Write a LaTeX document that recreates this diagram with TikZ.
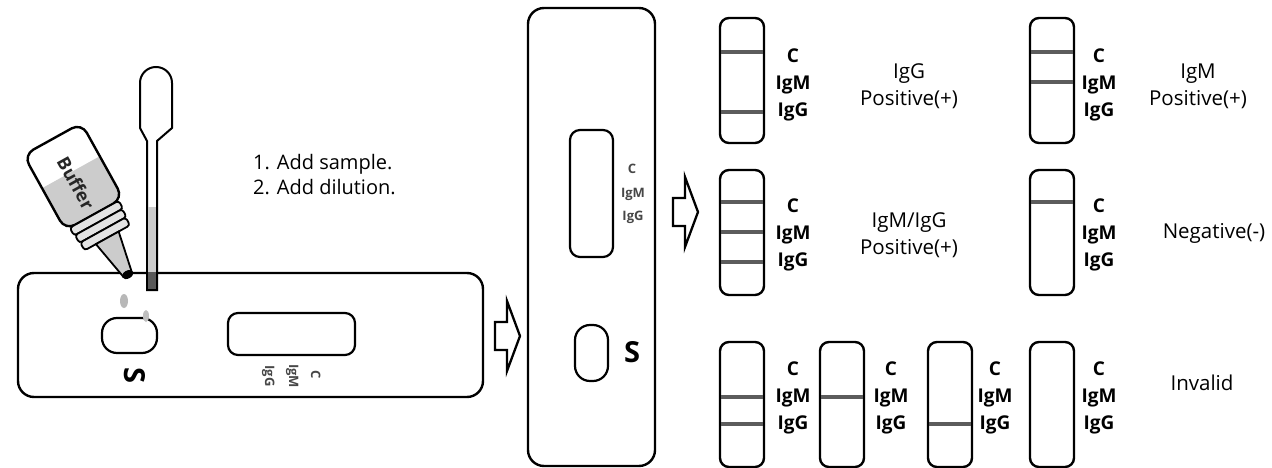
\documentclass[tikz,border=0pt]{standalone}
\usepackage{fontspec}
\setmainfont{Open Sans}
\usetikzlibrary{calc}

\definecolor{liquid}{gray}{0.80}
\definecolor{bandcol}{gray}{0.36}
\definecolor{faint}{gray}{0.28}

\tikzset{
  outline/.style={draw=black, line width=2.4pt},
  cassette/.style={outline, fill=white, rounded corners=16pt, inner sep=0pt, outer sep=0pt, anchor=north west},
  window/.style={outline, line width=2.2pt, rounded corners=10pt, inner sep=0pt, outer sep=0pt, anchor=north west},
  well/.style={outline, line width=2.2pt, rounded corners=15pt, inner sep=0pt, outer sep=0pt, anchor=north west},
  strip/.style={outline, rounded corners=9pt, minimum width=44pt, minimum height=125pt, inner sep=0pt, outer sep=0pt, anchor=north west},
  band/.style={draw=bandcol, line width=4pt, shorten <=1.3pt, shorten >=1.3pt},
  lbl/.style={font=\bfseries\fontsize{19}{19}\selectfont, inner sep=0pt, text height=13pt, text depth=4pt},
  minilbl/.style={font=\bfseries\fontsize{13}{13}\selectfont, text=faint, inner sep=0pt, text height=9pt, text depth=3pt},
  result/.style={font=\fontsize{20.5}{27}\selectfont, align=center, inner sep=0pt},
  bigS/.style={font=\bfseries\fontsize{29}{29}\selectfont, inner sep=0pt},
  blockarrow/.pic={\draw[line width=2.3pt, line join=miter, fill=white]
      (0,-14) -- (12,-14) -- (12,-35) -- (25,0) -- (12,35) -- (12,14) -- (0,14) -- cycle;},
}

% one coloured test line across a result strip
\newcommand\bandat[2]{%
  \path (0,#2) coordinate (bandy);
  \draw[band] (#1.west |- bandy) -- (#1.east |- bandy);}

% C / IgM / IgG column beside a result strip
\newcommand\linelabels[3]{%
  \node[lbl] (#1c) at (#2,#3) {C};
  \node[lbl] (#1m) at (#2,#3+27) {IgM};
  \node[lbl] (#1g) at (#2,#3+54) {IgG};}

\begin{document}
\begin{tikzpicture}[x=1pt, y=-1pt]
\useasboundingbox (0,0) rectangle (1272,468);

% ---------- horizontal cassette with sample being added ----------
\node[cassette, minimum width=465pt, minimum height=124pt] (hc) at (18,273) {};
\node[well, minimum width=55pt, minimum height=35pt] (hwell) at (102,318) {};
\node[window, minimum width=127pt, minimum height=42pt] (hwin) at (228,313) {};
\node[bigS, rotate=-90] (hS) at (135,375) {S};
\node[minilbl, rotate=-90] (hIgG) at (268,376) {IgG};
\node[minilbl, rotate=-90] (hIgM) at (292,376) {IgM};
\node[minilbl, rotate=-90] (hC) at (314,375) {C};

% falling drops
\fill[black!28] (124,301) ellipse (4 and 7);
\fill[black!25] (146,316) ellipse (3 and 6);

% pipette
\draw[outline, line width=2pt, fill=white]
  (147,290) -- (147,141) -- (140,128)
  [rounded corners=15.9pt] -- (140,67) -- (172,67)
  [sharp corners] -- (172,128) -- (157,141) -- (157,290) -- cycle;
\fill[liquid] (148.2,207) rectangle (155.8,272);
\fill[black!65] (148.2,272) rectangle (155.8,289);

% buffer bottle, tilted towards the sample well
\begin{scope}[shift={(52.5,139)}, rotate=29]
  \begin{scope}
    \clip[rounded corners=11pt] (-33,0) rectangle (33,86);
    \fill[white] (-34,-1) rectangle (34,87);
    \fill[liquid] (-34,38) rectangle (34,87);
  \end{scope}
  \draw[outline, rounded corners=11pt] (-33,0) rectangle (33,86);
  \foreach \yy/\hw in {86/28,95/27,104/26}
    \draw[outline, line width=1.8pt, fill=liquid!55, rounded corners=3pt] (-\hw,\yy) rectangle (\hw,\yy+9);
  \draw[outline, line width=1.8pt, fill=liquid] (-13,113) -- (13,113) -- (5,154) -- (-5,154) -- cycle;
  \fill (0,155) ellipse (6 and 4);
  \node[font=\bfseries\fontsize{18}{18}\selectfont, rotate=-61, text=black!85, inner sep=0pt] (buffer) at (-1,50) {Buffer};
\end{scope}

\node[font=\fontsize{20}{25}\selectfont, align=left, anchor=west, inner sep=0pt] (steps) at (253,175)
  {1. Add sample.\\2. Add dilution.};

% ---------- vertical cassette ----------
\pic (arrowA) at (495,336) {blockarrow};
\node[cassette, minimum width=127pt, minimum height=458pt] (vc) at (528,8) {};
\node[window, minimum width=43pt, minimum height=127pt] (vwin) at (570,130) {};
\node[minilbl] (vC) at (632,170) {C};
\node[minilbl] (vIgM) at (633,194) {IgM};
\node[minilbl] (vIgG) at (633,217) {IgG};
\node[well, minimum width=33pt, minimum height=56pt] (vwell) at (575,325) {};
\node[bigS] (vS) at (632,352) {S};

\pic (arrowB) at (673,212) {blockarrow};

% ---------- reading the result ----------
\node[strip] (s1) at (720,18) {};
\node[strip] (s2) at (1030,18) {};
\node[strip] (s3) at (720,170) {};
\node[strip] (s4) at (1030,170) {};
\node[strip] (s5) at (720,342) {};
\node[strip] (s6) at (820,342) {};
\node[strip] (s7) at (928,342) {};
\node[strip] (s8) at (1030,342) {};

\bandat{s1}{52} \bandat{s1}{112}
\bandat{s2}{52} \bandat{s2}{82}
\bandat{s3}{202} \bandat{s3}{232} \bandat{s3}{262}
\bandat{s4}{202}
\bandat{s5}{397} \bandat{s5}{424}
\bandat{s6}{397}
\bandat{s7}{424}

\linelabels{a}{793}{58}
\linelabels{b}{1099}{58}
\linelabels{c}{793}{208}
\linelabels{d}{1099}{208}
\linelabels{e}{793}{371}
\linelabels{f}{891}{371}
\linelabels{g}{995}{371}
\linelabels{h}{1099}{371}

\node[result] (rIgG) at (909,86) {IgG\\Positive(+)};
\node[result] (rIgM) at (1198,86) {IgM\\Positive(+)};
\node[result] (rBoth) at (909,235) {IgM/IgG\\Positive(+)};
\node[result] (rNeg) at (1214,233) {Negative(-)};
\node[result] (rInv) at (1202,383) {Invalid};
\end{tikzpicture}
\end{document}
